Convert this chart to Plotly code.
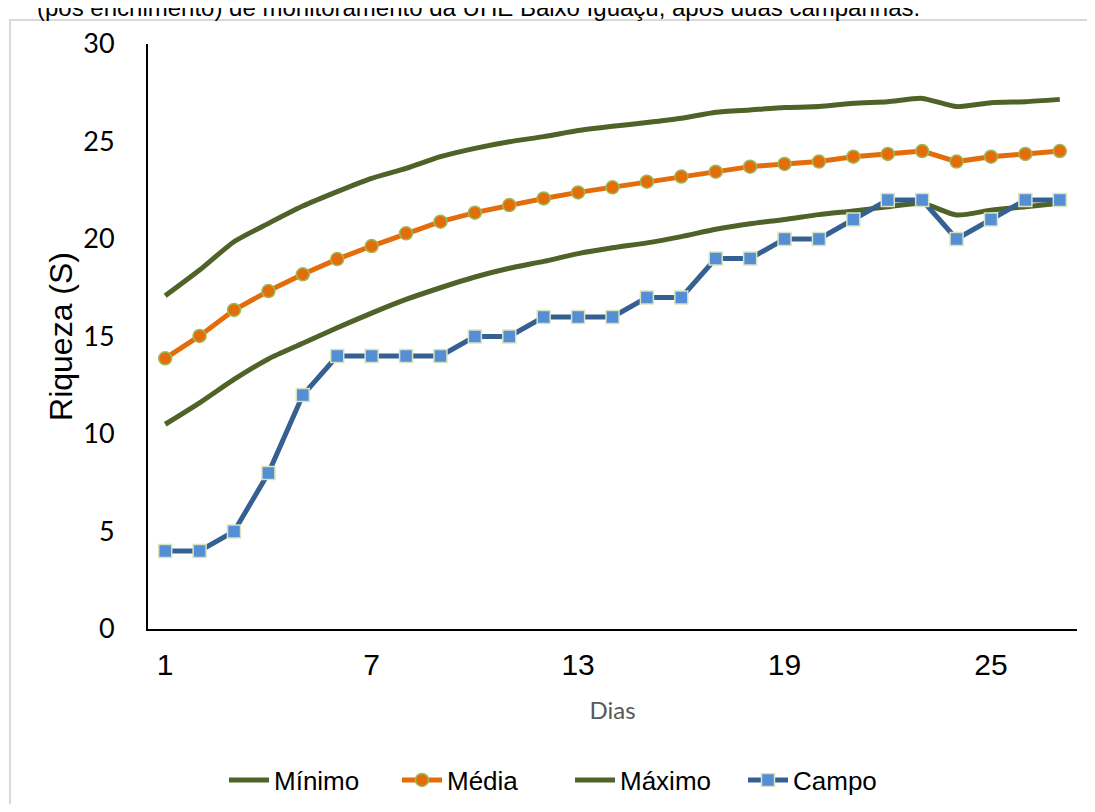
import plotly.graph_objects as go

days = list(range(1, 28))
minimo = [10.5, 11.6, 12.8, 13.85, 14.65, 15.45, 16.2, 16.9, 17.5, 18.05, 18.5, 18.85, 19.25,
          19.55, 19.8, 20.12, 20.5, 20.78, 21.0, 21.25, 21.44, 21.65, 21.83, 21.23, 21.48, 21.65, 21.83]
media = [13.88, 15.03, 16.36, 17.33, 18.19, 18.97, 19.64, 20.29, 20.89, 21.35, 21.74, 22.08, 22.39,
         22.65, 22.94, 23.2, 23.45, 23.71, 23.85, 23.97, 24.22, 24.36, 24.51, 23.97, 24.22, 24.36, 24.51]
maximo = [17.09, 18.41, 19.86, 20.8, 21.69, 22.43, 23.11, 23.62, 24.22, 24.65, 24.99, 25.25, 25.56,
          25.78, 25.97, 26.19, 26.5, 26.62, 26.74, 26.79, 26.96, 27.04, 27.21, 26.79, 26.99, 27.04, 27.16]
campo = [4, 4, 5, 8, 12, 14, 14, 14, 14, 15, 15, 16, 16, 16, 17, 17, 19, 19, 20, 20, 21, 22, 22, 20, 21, 22, 22]
x_ticks = [1, 7, 13, 19, 25]
y_ticks = [0, 5, 10, 15, 20, 25, 30]

GREEN = "#4F6228"
ORANGE = "#E46C0A"
BLUE_LINE = "#366092"
BLUE_MARK = "#558ED5"

# the page body has an 8px margin: figure is drawn from window pixel (8, 8)
OFF = 8
W, H = 1095 - 2 * OFF, 812 - 2 * OFF
# plot area in window pixels: x 148..1077, y 44..629
L = 148 - OFF
R = W - (1077 - OFF)
T = 44 - OFF
B = H - (629 - OFF)

fig = go.Figure()
fig.add_trace(go.Scatter(x=days, y=minimo, name="Mínimo", mode="lines",
                         line=dict(color=GREEN, width=5, shape="spline", smoothing=0.6)))
fig.add_trace(go.Scatter(x=days, y=media, name="Média", mode="lines+markers",
                         line=dict(color=ORANGE, width=5),
                         marker=dict(symbol="circle", size=13, color=ORANGE,
                                     line=dict(color="#9BBB59", width=1.5))))
fig.add_trace(go.Scatter(x=days, y=maximo, name="Máximo", mode="lines",
                         line=dict(color=GREEN, width=5, shape="spline", smoothing=0.6)))
fig.add_trace(go.Scatter(x=days, y=campo, name="Campo", mode="lines+markers",
                         line=dict(color=BLUE_LINE, width=5),
                         marker=dict(symbol="square", size=13, color=BLUE_MARK,
                                     line=dict(color="#D7E4BD", width=1.5))))

pw = W - L - R
ph = H - T - B
def wx(p):  # window pixel x -> paper
    return (p - OFF - L) / pw
def wy(p):  # window pixel y -> paper
    return (H - B - (p - OFF)) / ph

fig.add_shape(type="rect", xref="paper", yref="paper",
              x0=wx(10), x1=wx(1300), y0=wy(1000), y1=wy(20),
              line=dict(color="#D9D9D9", width=2), fillcolor="rgba(0,0,0,0)", layer="below")

fig.add_annotation(text="(pós enchimento) de monitoramento da UHE Baixo Iguaçu, após duas campanhas.",
                   xref="paper", yref="paper", x=wx(922), y=wy(23),
                   xanchor="right", yanchor="bottom", showarrow=False,
                   font=dict(family="Liberation Sans, Arial", size=24, color="#000000"))

fig.update_layout(
    width=W, height=H,
    margin=dict(l=L, r=R, t=T, b=B, pad=0, autoexpand=False),
    paper_bgcolor="white", plot_bgcolor="white",
    showlegend=True,
    legend=dict(orientation="h", x=wx(228 - 4), xanchor="left", y=wy(780), yanchor="middle",
                font=dict(family="Liberation Sans, Arial", size=26, color="#000000"),
                traceorder="normal", itemwidth=40, tracegroupgap=0,
                entrywidth=118, entrywidthmode="pixels"),
    xaxis=dict(range=[0.5, 27.5], tickmode="array", tickvals=x_ticks, ticktext=[str(v) for v in x_ticks],
               showline=True, linecolor="#000000", linewidth=2, showgrid=False, zeroline=False,
               ticks="", ticklabelstandoff=8,
               tickfont=dict(family="Liberation Sans, Arial", size=30, color="#000000"),
               title=dict(text="Dias", standoff=22,
                          font=dict(family="Lato, Open Sans", size=24, color="#595959"))),
    yaxis=dict(range=[0, 30], tickmode="array", tickvals=y_ticks, ticktext=[str(v) for v in y_ticks],
               showline=True, linecolor="#000000", linewidth=2, showgrid=False, zeroline=False,
               ticks="", ticklabelstandoff=26,
               tickfont=dict(family="Lato, Open Sans", size=27, color="#000000"),
               title=dict(text="Riqueza (S)", standoff=1,
                          font=dict(family="Liberation Sans, Arial", size=32, color="#000000"))),
)

fig.write_html("out.html")
